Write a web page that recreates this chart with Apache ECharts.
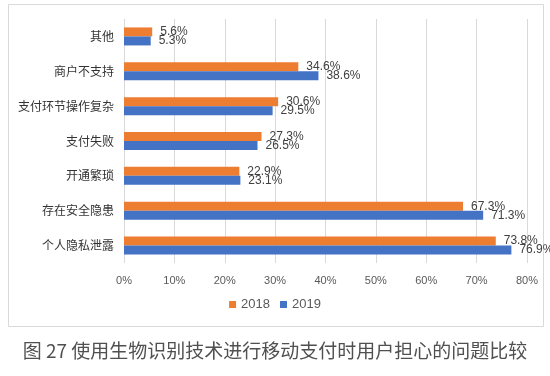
<!DOCTYPE html>
<html>
<head>
<meta charset="utf-8">
<script src="https://cdn.jsdelivr.net/npm/echarts@6/dist/echarts.min.js"></script>
<style>
html, body { margin: 0; padding: 0; background: #fff; }
#chart { width: 550px; height: 376px; }
</style>
</head>
<body>
<div id="chart"></div>
<script>
// 问题类别（从上到下）
const categories = ['其他', '商户不支持', '支付环节操作复杂', '支付失败', '开通繁琐', '存在安全隐患', '个人隐私泄露']
const values2018 = [5.6, 34.6, 30.6, 27.3, 22.9, 67.3, 73.8]
const values2019 = [5.3, 38.6, 29.5, 26.5, 23.1, 71.3, 76.9]
const xTicks = [0, 10, 20, 30, 40, 50, 60, 70, 80]
const caption = '图 27 使用生物识别技术进行移动支付时用户担心的问题比较'

const labelStyle = {
  show: true,
  position: 'right',
  distance: 8,
  color: '#404040',
  fontSize: 12,
  fontFamily: 'Liberation Sans, Arial, sans-serif',
  formatter: p => p.value.toFixed(1) + '%'
}

const myChart = echarts.init(document.getElementById('chart'))
myChart.setOption({
  animation: false,
  textStyle: { fontFamily: 'Noto Sans CJK SC, sans-serif' },
  graphic: [
    {
      type: 'rect',
      shape: { x: 8.5, y: 4.5, width: 535, height: 322 },
      style: { fill: 'none', stroke: '#d9d9d9', lineWidth: 1 },
      silent: true
    },
    {
      type: 'text',
      left: 'center',
      top: 341,
      style: {
        text: caption,
        fill: '#505050',
        fontSize: 19,
        fontFamily: 'Noto Sans CJK SC, sans-serif'
      }
    }
  ],
  legend: {
    bottom: 60,
    left: 'center',
    itemWidth: 7,
    itemHeight: 7,
    itemGap: 10,
    icon: 'rect',
    selectedMode: false,
    textStyle: { color: '#595959', fontSize: 13, fontFamily: 'Liberation Sans, Arial, sans-serif' },
    data: ['2018', '2019']
  },
  grid: { left: 124, right: 23, top: 19, bottom: 113 },
  xAxis: {
    type: 'value',
    min: xTicks[0],
    max: xTicks[xTicks.length - 1],
    interval: 10,
    axisLine: { show: false },
    axisTick: { show: false },
    splitLine: { lineStyle: { color: '#d9d9d9' } },
    axisLabel: {
      color: '#595959',
      fontSize: 11,
      margin: 12,
      fontFamily: 'Liberation Sans, Arial, sans-serif',
      formatter: '{value}%'
    }
  },
  yAxis: {
    type: 'category',
    inverse: true,
    data: categories,
    axisLine: { show: false },
    axisTick: { show: false },
    axisLabel: { color: '#333', fontSize: 12, margin: 10 }
  },
  series: [
    {
      name: '2018',
      type: 'bar',
      data: values2018,
      barWidth: 9,
      barGap: '0%',
      itemStyle: { color: '#ED7D31' },
      label: labelStyle
    },
    {
      name: '2019',
      type: 'bar',
      data: values2019,
      barWidth: 9,
      itemStyle: { color: '#4472C4' },
      label: labelStyle
    }
  ]
})
</script>
</body>
</html>
